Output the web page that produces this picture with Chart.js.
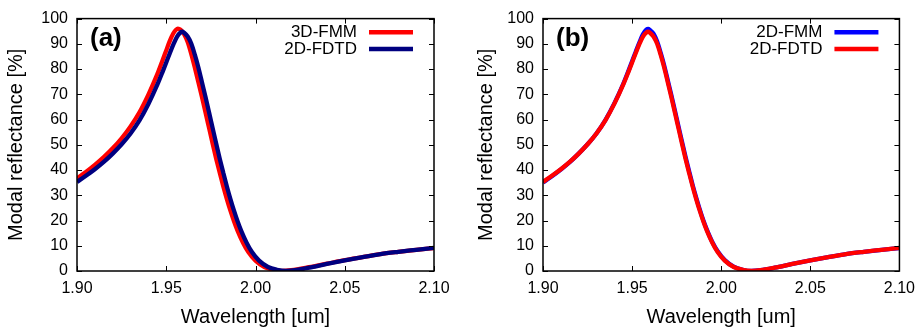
<!DOCTYPE html>
<html>
<head>
<meta charset="utf-8">
<script src="https://cdn.jsdelivr.net/npm/chart.js@4"></script>
<style>
  html, body { margin: 0; padding: 0; background: #fff; }
  #wrap { position: relative; width: 923px; height: 332px; }
  canvas { position: absolute; top: 0; }
  #ca { left: 0; }
  #cb { left: 461px; }
</style>
</head>
<body>
<div id="wrap">
  <canvas id="ca" width="461" height="332"></canvas>
  <canvas id="cb" width="462" height="332"></canvas>
</div>
<script>
// ticks
const xTicks = [1.90, 1.95, 2.00, 2.05, 2.10];
const yTicks = [0, 10, 20, 30, 40, 50, 60, 70, 80, 90, 100];

// 3D-FMM (panel a, red)
const wlFmm3d = [1.900,1.905,1.910,1.915,1.920,1.925,1.930,1.935,1.940,1.945,1.948,1.950,1.952,1.954,1.9555,1.9565,1.958,1.960,1.962,1.964,1.966,1.968,1.970,1.972,1.974,1.976,1.978,1.980,1.982,1.984,1.986,1.988,1.990,1.993,1.996,2.000,2.005,2.010,2.015,2.020,2.030,2.040,2.050,2.060,2.070,2.080,2.090,2.100];
const rFmm3d  = [36.7,39.2,42.0,45.1,48.6,52.6,57.3,62.9,69.9,78.0,83.6,87.4,91.2,94.2,95.6,96.0,95.6,93.8,90.7,86.0,80.6,74.8,68.9,62.8,56.6,50.4,44.4,38.8,33.4,28.4,23.8,19.6,15.9,11.2,7.5,4.1,1.6,0.5,0.05,0.3,1.5,2.9,4.3,5.5,6.7,7.6,8.4,9.1];

// 2D-FDTD (panel a navy, panel b red)
const wlFdtd = [1.900,1.905,1.910,1.915,1.920,1.925,1.930,1.935,1.940,1.945,1.948,1.950,1.952,1.954,1.956,1.958,1.959,1.960,1.962,1.964,1.966,1.968,1.970,1.972,1.974,1.976,1.978,1.980,1.982,1.984,1.986,1.988,1.990,1.992,1.995,1.998,2.002,2.007,2.012,2.017,2.022,2.030,2.040,2.050,2.060,2.070,2.080,2.090,2.100];
const rFdtd  = [35.3,37.7,40.3,43.2,46.5,50.2,54.5,59.7,66.2,73.8,79.0,82.6,86.3,89.8,92.8,94.5,94.8,94.4,92.9,90.1,85.7,80.6,74.8,68.9,62.8,56.6,50.4,44.4,38.8,33.4,28.4,23.8,19.6,15.9,11.2,7.5,4.1,1.6,0.5,0.05,0.3,1.3,2.8,4.2,5.5,6.7,7.6,8.4,9.2];

// 2D-FMM (panel b, blue)
const wlFmm2d = wlFdtd;
const rFmm2d  = [35.1,37.5,40.2,43.1,46.5,50.2,54.5,59.8,66.4,74.1,79.4,83.1,86.8,90.4,93.7,95.6,95.9,95.5,94.0,91.0,86.5,81.4,75.6,69.7,63.6,57.4,51.2,45.2,39.5,34.0,29.0,24.3,20.0,16.3,11.5,7.8,4.3,1.7,0.5,0.0,0.3,1.3,2.8,4.2,5.5,6.7,7.6,8.4,9.1];

const FONT = "'Liberation Sans', Arial, sans-serif";
const pts = (xs, ys) => xs.map((x, i) => ({ x, y: ys[i] }));

// gnuplot-ish frame, inward ticks, panel tag and legend
const gp = {
  id: 'gp',
  afterDatasetsDraw(chart, args, opts) {
    const { ctx, chartArea: a, scales: { x, y } } = chart;
    ctx.save();
    ctx.strokeStyle = '#000';
    ctx.lineWidth = 1;
    ctx.beginPath();
    x.ticks.forEach(t => {
      const p = Math.round(x.getPixelForValue(t.value)) + 0.5;
      ctx.moveTo(p, a.bottom); ctx.lineTo(p, a.bottom - 5);
      ctx.moveTo(p, a.top); ctx.lineTo(p, a.top + 5);
    });
    y.ticks.forEach(t => {
      const p = Math.round(y.getPixelForValue(t.value)) + 0.5;
      ctx.moveTo(a.left, p); ctx.lineTo(a.left + 5, p);
      ctx.moveTo(a.right, p); ctx.lineTo(a.right - 5, p);
    });
    ctx.stroke();
    ctx.lineWidth = 1.5;
    ctx.strokeRect(a.left, a.top, a.right - a.left, a.bottom - a.top);

    ctx.fillStyle = '#000';
    ctx.textBaseline = 'middle';
    ctx.textAlign = 'left';
    ctx.font = 'bold 26px ' + FONT;
    ctx.fillText(opts.tag, a.left + 13, a.top + 20);

    ctx.font = '17px ' + FONT;
    ctx.textAlign = 'right';
    chart.data.datasets.forEach((d, i) => {
      const yy = a.top + 13.6 + i * 16.7;
      ctx.fillStyle = '#000';
      ctx.fillText(d.label, a.right - 77, yy);
      ctx.strokeStyle = d.borderColor;
      ctx.lineWidth = 4.5;
      ctx.beginPath();
      ctx.moveTo(a.right - 65, yy);
      ctx.lineTo(a.right - 21, yy);
      ctx.stroke();
    });
    ctx.restore();
  }
};

function panel(el, sets, tag, yWidth, yTitlePad, padRight) {
  return new Chart(el, {
    type: 'line',
    data: { datasets: sets },
    options: {
      responsive: false,
      animation: false,
      layout: { padding: { top: 16, right: padRight, bottom: 0, left: 0 } },
      plugins: { legend: { display: false }, tooltip: { enabled: false }, gp: { tag } },
      elements: {
        point: { radius: 0 },
        line: { borderWidth: 4.3, cubicInterpolationMode: 'monotone' }
      },
      scales: {
        x: {
          type: 'linear', min: 1.9, max: 2.1,
          grid: { display: false, drawTicks: false },
          border: { display: false },
          afterBuildTicks: s => { s.ticks = xTicks.map(v => ({ value: v })); },
          ticks: { color: '#000', font: { size: 16, family: FONT }, padding: 8, maxRotation: 0, autoSkip: false,
                   callback: v => Number(v).toFixed(2) },
          title: { display: true, text: 'Wavelength [um]', color: '#000',
                   font: { size: 20, family: FONT }, padding: { top: 0, bottom: 3 } },
          afterFit: s => { s.height = 61; }
        },
        y: {
          min: 0, max: 100,
          grid: { display: false, drawTicks: false },
          border: { display: false },
          afterBuildTicks: s => { s.ticks = yTicks.map(v => ({ value: v })); },
          ticks: { color: '#000', font: { size: 16, family: FONT }, padding: 9, autoSkip: false },
          title: { display: true, text: 'Modal reflectance [%]', color: '#000',
                   font: { size: 20, family: FONT }, padding: { top: yTitlePad, bottom: 0 } },
          afterFit: s => { s.width = yWidth; }
        }
      }
    },
    plugins: [gp]
  });
}

panel(document.getElementById('ca'), [
  { label: '3D-FMM', data: pts(wlFmm3d, rFmm3d), borderColor: '#ff0000', order: 1 },
  { label: '2D-FDTD', data: pts(wlFdtd, rFdtd), borderColor: '#000080', order: 0 }
], '(a)', 77, 4.5, 27);

panel(document.getElementById('cb'), [
  { label: '2D-FMM', data: pts(wlFmm2d, rFmm2d), borderColor: '#0000ff', order: 1 },
  { label: '2D-FDTD', data: pts(wlFdtd, rFdtd), borderColor: '#ff0000', order: 0 }
], '(b)', 82, 13.5, 21);
</script>
</body>
</html>
